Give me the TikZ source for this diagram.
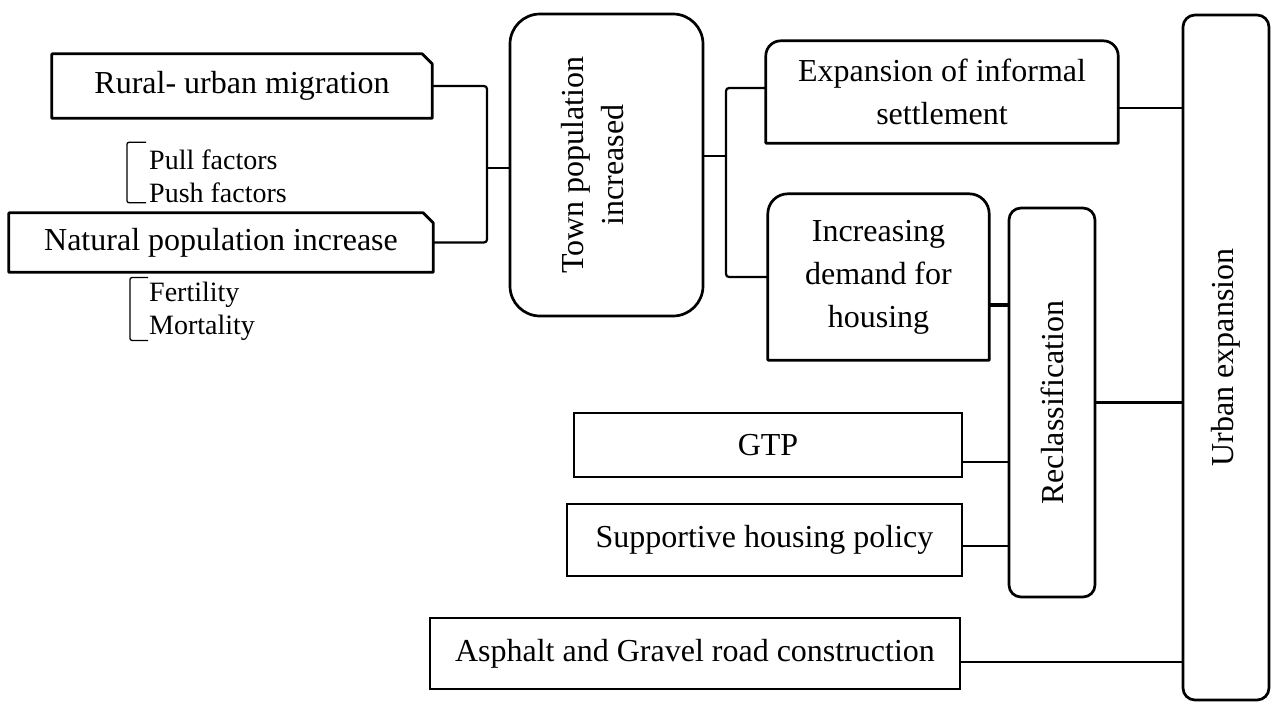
\documentclass[tikz,border=0pt]{standalone}
\usepackage{fontspec}
\setmainfont{Liberation Serif}
\usepackage{tikz}
\usetikzlibrary{calc}
\newcommand{\mainsize}{\fontsize{32}{43}\selectfont}
\newcommand{\smallsize}{\fontsize{28}{33}\selectfont}

\begin{document}
\begin{tikzpicture}[
    x=1pt, y=1pt,
    font=\mainsize,
    plain/.style={inner sep=0pt, align=center},
    box/.style={plain, draw, line width=2.7pt},
    shell/.style={line width=2.7pt, line join=round},
    link/.style={line width=2.2pt},
    brace/.style={line width=1.3pt, rounded corners=2pt},
    factor/.style={inner sep=0pt, align=left, font=\smallsize, anchor=west}
  ]
    \useasboundingbox (0,0) rectangle (1271,-702);

    % causes on the left
    \node[plain, minimum width=380, minimum height=64] (rural) at (242,-86) {Rural- urban migration};
    \node[plain, minimum width=424, minimum height=59] (natural) at (221,-242.5) {Natural population increase};
    \draw[shell] (rural.south west) -- (rural.north west) -- ([xshift=-10pt]rural.north east)
      -- ([yshift=-10pt]rural.north east) -- (rural.south east) -- cycle;
    \draw[shell] (natural.south west) -- (natural.north west) -- ([xshift=-10pt]natural.north east)
      -- ([yshift=-10pt]natural.north east) -- (natural.south east) -- cycle;

    \node[factor] (pull) at (149,-176) {Pull factors\\Push factors};
    \node[factor] (fert) at (149,-311) {Fertility\\Mortality};
    \draw[brace] ([xshift=-3pt,yshift=7pt]pull.north west) -- ++(-19,0) |- ([xshift=-3pt]pull.south west);
    \draw[brace] ([xshift=-1pt,yshift=4pt]fert.north west) -- ++(-18,0) |- ([xshift=-1pt]fert.south west);

    % town and its effects
    \node[box, rounded corners=30pt, minimum width=193, minimum height=302] (town) at (606.5,-165)
      {\hspace*{-24pt}\rotatebox{90}{\begin{tabular}{@{}c@{}}Town population\\[-0.2ex]increased\end{tabular}}};

    \node[plain, minimum width=352, minimum height=102] (expansion) at (942,-92) {Expansion of informal\\settlement};
    \draw[shell] (expansion.south west) -- ([yshift=-15pt]expansion.north west)
      arc[start angle=180, end angle=90, radius=15pt] -- ([xshift=-15pt]expansion.north east)
      arc[start angle=90, end angle=0, radius=15pt] -- (expansion.south east) -- cycle;

    \node[plain, minimum width=221, minimum height=166] (increasing) at (878.5,-277) {Increasing\\demand for\\housing};
    \draw[shell] (increasing.south west) -- ([yshift=-20pt]increasing.north west)
      arc[start angle=180, end angle=90, radius=20pt] -- ([xshift=-20pt]increasing.north east)
      arc[start angle=90, end angle=0, radius=20pt] -- (increasing.south east) -- cycle;

    \node[box, rounded corners=12pt, minimum width=86, minimum height=389] (reclass) at (1052,-402.5)
      {\rotatebox{90}{Reclassification}};
    \node[box, rounded corners=12pt, minimum width=86, minimum height=685] (urban) at (1226,-357.5)
      {\rotatebox{90}{Urban expansion}};

    \node[box, minimum width=388, minimum height=64] (gtp) at (768,-445) {GTP};
    \node[box, minimum width=395, minimum height=72] (policy) at (764.5,-540) {Supportive housing policy};
    \node[box, minimum width=530, minimum height=71] (road) at (695,-653.5) {Asphalt and Gravel road construction};

    % connectors
    \coordinate (jl) at (487,-168);
    \coordinate (jr) at (726,-156);
    \draw[link, rounded corners=3pt] (rural.east) -| (jl) |- (natural.east);
    \draw[link] (jl) -- (jl -| town.west);
    \draw[link] (jr -| town.east) -- (jr);
    \draw[link, rounded corners=3pt] ([yshift=4pt]expansion.west) -| (jr) |- (increasing.west);
    \draw[link] ([yshift=-16pt]expansion.east) -- ([yshift=-16pt]expansion.east -| urban.west);
    \draw[link, line width=4pt] ([yshift=-28pt]increasing.east) -- ([yshift=-28pt]increasing.east -| reclass.west);
    \draw[link] (reclass.east) -- (reclass.east -| urban.west);
    \draw[link] ([yshift=-17pt]gtp.east) -- ([yshift=-17pt]gtp.east -| reclass.west);
    \draw[link] ([yshift=-6pt]policy.east) -- ([yshift=-6pt]policy.east -| reclass.west);
    \draw[link] ([yshift=-8.5pt]road.east) -- ([yshift=-8.5pt]road.east -| urban.west);
  \end{tikzpicture}
\end{document}
